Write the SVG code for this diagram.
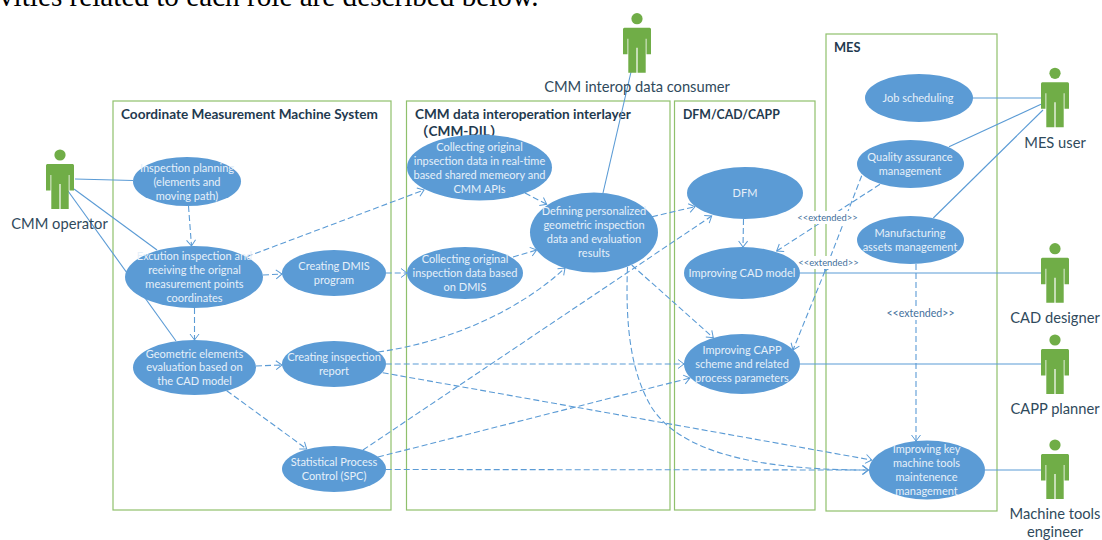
<svg xmlns="http://www.w3.org/2000/svg" xmlns:xlink="http://www.w3.org/1999/xlink" width="1102" height="540" viewBox="0 0 1102 540">
<style>
.box{fill:none;stroke:#8fc06c;stroke-width:1.2}
.title{font-family:"Lato","Liberation Sans",sans-serif;font-weight:700;font-size:13.6px;fill:#1f3a4f}
.uc{fill:#5b9bd5}
.t{font-family:"Lato","Liberation Sans",sans-serif;font-size:11px;fill:#e6f0f9;text-anchor:middle}
.actor{fill:#70ad47}
.al{font-family:"Lato","Liberation Sans",sans-serif;font-size:14.7px;fill:#2f4a5c;text-anchor:middle}
.s{fill:none;stroke:#5b9bd5;stroke-width:1.1}
.d{fill:none;stroke:#5b9bd5;stroke-width:1.1;stroke-dasharray:6 3;marker-end:url(#arr)}
.ext{font-family:"Lato","Liberation Sans",sans-serif;font-size:9.4px;fill:#44709c;text-anchor:middle}
.ext2{font-size:10.6px}
.top{font-family:"Liberation Serif","Times New Roman",serif;font-size:29.2px;fill:#000}
</style>
<defs>
<marker id="arr" markerUnits="userSpaceOnUse" markerWidth="10" markerHeight="12" refX="7" refY="5" orient="auto" overflow="visible">
<path d="M1,0.5 L7,5 L1,9.5" fill="none" stroke="#5b9bd5" stroke-width="1"/>
</marker>
<g id="person">
<circle cx="0" cy="0" r="5.6"/>
<path d="M-12.6,9 H12.6 Q14,9 14,10.5 V35.5 H9.5 V20 H8.7 V54 H0.6 V29 H-0.6 V54 H-8.7 V20 H-9.5 V35.5 H-14 V10.5 Q-14,9 -12.6,9 Z"/>
</g>
</defs>
<rect width="1102" height="540" fill="#ffffff"/>
<text class="top" x="-1" y="5.5">vities related to each role are described below.</text>

<g id="boundaries">
<g id="sys-cmm"><rect class="box" x="113" y="101" width="278" height="409"/><text class="title" x="121" y="119">Coordinate Measurement Machine System</text></g>
<g id="sys-dil"><rect class="box" x="406.5" y="101" width="263.5" height="409"/><text class="title" x="415" y="119">CMM data interoperation interlayer</text><text class="title" x="415" y="136" style="font-family:'Lato','Noto Sans CJK SC',sans-serif">（CMM-DIL）</text></g>
<g id="sys-dfm"><rect class="box" x="674.5" y="101" width="140.5" height="409"/><text class="title" x="683" y="119" style="font-size:12.3px">DFM/CAD/CAPP</text></g>
<g id="sys-mes"><rect class="box" x="826" y="34" width="171" height="477"/><text class="title" x="834" y="52" style="font-size:12.8px">MES</text></g>
</g>

<g id="connectors">
<path class="s" d="M75,179 L133,180.5"/>
<path class="s" d="M74,189 L157,250"/>
<path class="s" d="M68,191 L176,341"/>
<path class="s" d="M631,72 L603,193"/>
<path class="s" d="M972,98 L1041,98"/>
<path class="s" d="M949,146.7 L1041,104.3"/>
<path class="s" d="M933.3,218 L1043,110"/>
<path class="s" d="M800,273 L1041,273"/>
<path class="s" d="M800,364 L1041,364"/>
<path class="s" d="M985,470 L1041,470"/>
<path class="d" d="M188.5,206 L191.5,246"/>
<path class="d" d="M246.7,256.7 L424,190"/>
<path class="d" d="M263,275 L282,274"/>
<path class="d" d="M194.5,308 L194.5,340"/>
<path class="d" d="M385.7,273 L407,273"/>
<path class="d" d="M525,193 L546.7,204.3"/>
<path class="d" d="M513,257 L536.7,250"/>
<path class="d" d="M652,216.7 L695,206.7"/>
<path class="d" d="M256,366 L282,365"/>
<path class="d" d="M226.7,390.7 L306.7,449"/>
<path class="d" d="M378,352 C450,342 520,310 565,268"/>
<path class="d" d="M385.7,364 L684,364"/>
<path class="d" d="M382.7,372.7 L871.7,460"/>
<path class="d" d="M363,450 L711.7,216"/>
<path class="d" d="M378,457 L690,378"/>
<path class="d" d="M385.7,469.5 L868.7,470"/>
<path class="d" d="M631.7,265 L713.3,337.7"/>
<path class="d" d="M627.5,267 C625,330 632,375 652,408 C680,450 750,470 868,470"/>
<path class="d" d="M743.5,219 L743,247"/>
<path class="d" d="M880,184.3 L776.7,251"/>
<path class="d" d="M861.7,175.7 L825,271"/>
<path class="d" d="M825,271 L793,350"/>
<path class="d" d="M916,264 L916,441"/>
</g>

<g id="connector-labels">
<g><rect x="797" y="211" width="61" height="13" fill="#ffffff"/><text class="ext" x="827.5" y="221">&lt;&lt;extended&gt;&gt;</text></g>
<g><rect x="798" y="256" width="61" height="13" fill="#ffffff"/><text class="ext" x="828.5" y="266">&lt;&lt;extended&gt;&gt;</text></g>
<g><rect x="886" y="307" width="70" height="13" fill="#ffffff"/><text class="ext ext2" x="920.5" y="317">&lt;&lt;extended&gt;&gt;</text></g>
</g>

<g id="uc-planning"><ellipse class="uc" cx="187" cy="181.5" rx="54" ry="24.5"/><text class="t" x="187" y="171.5">Inspection planning</text><text class="t" x="187" y="186">(elements and</text><text class="t" x="187" y="200">moving path)</text></g>
<g id="uc-excution"><ellipse class="uc" cx="194" cy="277" rx="69" ry="31"/><text class="t" x="194.5" y="260">Excution inspection and</text><text class="t" x="194.5" y="274">reeiving the orignal</text><text class="t" x="194.5" y="288">measurement points</text><text class="t" x="194.5" y="302">coordinates</text></g>
<g id="uc-dmis"><ellipse class="uc" cx="334" cy="273" rx="52" ry="23"/><text class="t" x="334" y="270">Creating DMIS</text><text class="t" x="334" y="284">program</text></g>
<g id="uc-geometric"><ellipse class="uc" cx="194.5" cy="367.5" rx="61.5" ry="27.5"/><text class="t" x="194.5" y="357.5">Geometric elements</text><text class="t" x="194.5" y="371">evaluation based on</text><text class="t" x="194.5" y="385">the CAD model</text></g>
<g id="uc-report"><ellipse class="uc" cx="334" cy="364" rx="52" ry="23"/><text class="t" x="334" y="361">Creating inspection</text><text class="t" x="334" y="375">report</text></g>
<g id="uc-spc"><ellipse class="uc" cx="334" cy="469" rx="52" ry="23"/><text class="t" x="334" y="466">Statistical Process</text><text class="t" x="334" y="480">Control (SPC)</text></g>
<g id="uc-realtime"><ellipse class="uc" cx="479.5" cy="167.5" rx="72.5" ry="33"/><text class="t" x="479.5" y="151">Collecting original</text><text class="t" x="479.5" y="165">inpsection data in real-time</text><text class="t" x="479.5" y="179">based shared memeory and</text><text class="t" x="479.5" y="193">CMM APIs</text></g>
<g id="uc-collect-dmis"><ellipse class="uc" cx="465" cy="273" rx="58" ry="26"/><text class="t" x="465" y="263">Collecting original</text><text class="t" x="465" y="277">inspection data based</text><text class="t" x="465" y="291">on DMIS</text></g>
<g id="uc-defining"><ellipse class="uc" cx="594" cy="232.5" rx="64" ry="40"/><text class="t" x="594" y="215">Defining personalized</text><text class="t" x="594" y="229">geometric inspection</text><text class="t" x="594" y="243">data and evaluation</text><text class="t" x="594" y="257">results</text></g>
<g id="uc-dfm"><ellipse class="uc" cx="745" cy="193" rx="58" ry="26"/><text class="t" x="745" y="197">DFM</text></g>
<g id="uc-cad"><ellipse class="uc" cx="742" cy="273" rx="58" ry="26"/><text class="t" x="742" y="277">Improving CAD model</text></g>
<g id="uc-capp"><ellipse class="uc" cx="742" cy="364" rx="58" ry="30"/><text class="t" x="742" y="354">Improving CAPP</text><text class="t" x="742" y="368">scheme and related</text><text class="t" x="742" y="382">process parameters</text></g>
<g id="uc-job"><ellipse class="uc" cx="919" cy="98" rx="54" ry="24"/><text class="t" x="918" y="102">Job scheduling</text></g>
<g id="uc-quality"><ellipse class="uc" cx="910.5" cy="164" rx="53.5" ry="24"/><text class="t" x="910" y="161">Quality assurance</text><text class="t" x="910" y="175">management</text></g>
<g id="uc-assets"><ellipse class="uc" cx="910.5" cy="240" rx="53.5" ry="24"/><text class="t" x="910" y="237">Manufacturing</text><text class="t" x="910" y="251">assets management</text></g>
<g id="uc-maintenance"><ellipse class="uc" cx="927" cy="470" rx="58" ry="29.5"/><text class="t" x="926.5" y="453">Improving key</text><text class="t" x="926.5" y="467">machine tools</text><text class="t" x="926.5" y="481">maintenence</text><text class="t" x="926.5" y="495">management</text></g>

<g id="actor-operator"><use xlink:href="#person" href="#person" class="actor" x="60" y="155"/><text class="al" x="59.5" y="229">CMM operator</text></g>
<g id="actor-consumer"><use xlink:href="#person" href="#person" class="actor" x="637" y="18.7"/><text class="al" x="637" y="92">CMM interop data consumer</text></g>
<g id="actor-mes"><use xlink:href="#person" href="#person" class="actor" x="1055" y="73.3"/><text class="al" x="1055" y="148">MES user</text></g>
<g id="actor-cad"><use xlink:href="#person" href="#person" class="actor" x="1055" y="248.7"/><text class="al" x="1055" y="323">CAD designer</text></g>
<g id="actor-capp"><use xlink:href="#person" href="#person" class="actor" x="1055" y="340"/><text class="al" x="1055" y="414">CAPP planner</text></g>
<g id="actor-engineer"><use xlink:href="#person" href="#person" class="actor" x="1055" y="445"/><text class="al" x="1055" y="519">Machine tools</text><text class="al" x="1055" y="537">engineer</text></g>
</svg>
